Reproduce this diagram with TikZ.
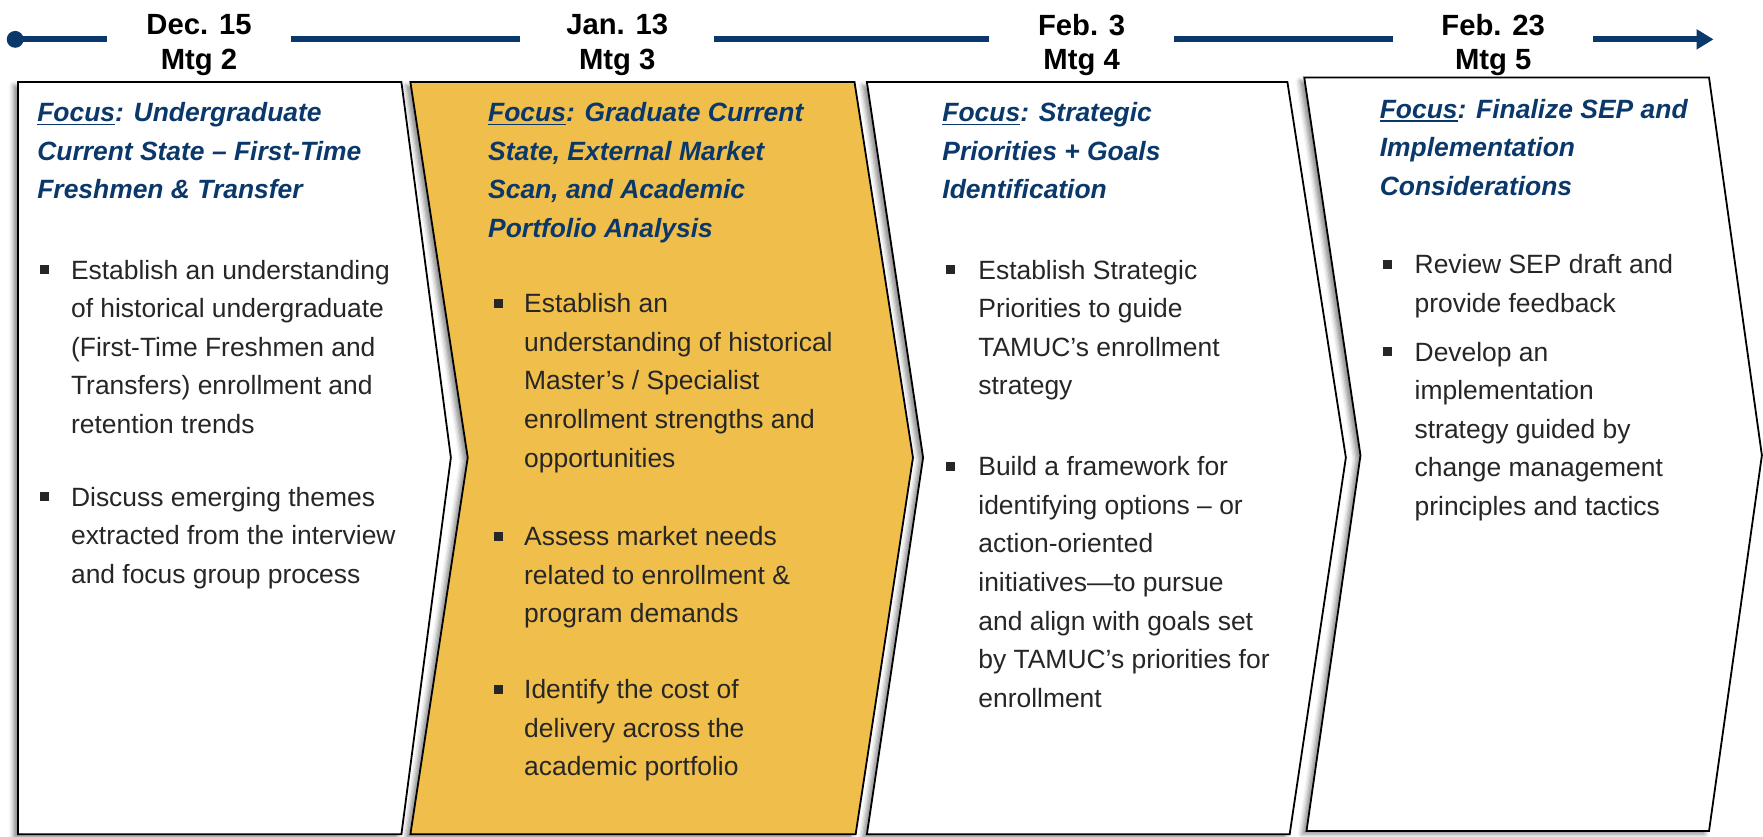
\documentclass[tikz,border=0pt]{standalone}
\usepackage{fontspec}
\setmainfont{Liberation Sans}
\usetikzlibrary{arrows.meta,shadows.blur}
\definecolor{navy}{RGB}{10,56,106}
\definecolor{gold}{RGB}{240,190,74}
\definecolor{bodyc}{RGB}{38,38,38}
% underlined "Focus" with a rule that suits the large type
\newcommand{\focusul}{\setbox0\hbox{Focus}\rlap{\rule[-3.2pt]{\wd0}{1.5pt}}\box0}
\tikzset{
  panel/.style={draw=black, line width=1.6pt, line join=miter,
    blur shadow={shadow xshift=-4pt, shadow yshift=-3pt, shadow blur radius=4pt, shadow opacity=45}},
  ttl/.style={anchor=north west, inner sep=0pt, align=left, text=navy,
    font=\fontsize{23.5}{34.3}\selectfont\bfseries\itshape},
  bodytxt/.style={anchor=north west, inner sep=0pt, align=left, text=bodyc,
    font=\fontsize{23.5}{34.3}\selectfont},
  bul/.style={rectangle, fill=bodyc, minimum size=8pt, inner sep=0pt},
  datelbl/.style={align=center, inner xsep=0pt, inner ysep=0pt, text=black,
    font=\fontsize{26}{31}\selectfont\bfseries},
  tl/.style={draw=navy, line width=5.3pt},
  tldot/.style={circle, fill=navy, minimum size=15pt, inner sep=0pt}
}
\begin{document}
\begin{tikzpicture}[x=1pt, y=-1pt]
\useasboundingbox (0,0) rectangle (1568,744);

% ---- chevron panels ----
\draw[panel, fill=white] (16,73) -- (357,73) -- (401,407) -- (357,742) -- (16,742) -- cycle;
\draw[panel, fill=gold] (365,73) -- (760,73) -- (812,407) -- (761,742) -- (365,742) -- (416,407) -- cycle;
\draw[panel, fill=white] (771,73) -- (1145,73) -- (1197,407) -- (1147,742) -- (771,742) -- (821,407) -- cycle;
\draw[panel, fill=white] (1160,69) -- (1520,69) -- (1567,405) -- (1520,739) -- (1162,739) -- (1210,405) -- cycle;

% ---- timeline ----
\node[tldot] (dot) at (13.5,35) {};
\node[datelbl, minimum width=164pt] (d1) at (177,40) {Dec. 15\\Mtg 2};
\node[datelbl, minimum width=172pt] (d2) at (549,40) {Jan. 13\\Mtg 3};
\node[datelbl, minimum width=164pt] (d3) at (962,40) {Feb. 3\\Mtg 4};
\node[datelbl, minimum width=178pt] (d4) at (1328,40) {Feb. 23\\Mtg 5};
\coordinate (tlend) at (1524,35);
\draw[tl] (dot.center) -- (d1.west |- dot.center);
\draw[tl] (d1.east |- dot.center) -- (d2.west |- dot.center);
\draw[tl] (d2.east |- dot.center) -- (d3.west |- dot.center);
\draw[tl] (d3.east |- dot.center) -- (d4.west |- dot.center);
\draw[tl, -{Triangle[length=15pt,width=17pt]}] (d4.east |- dot.center) -- (tlend);

% ---- panel 1 ----
\node[ttl] (t1) at (33,84) {\strut\focusul: Undergraduate\\Current State – First-Time\\Freshmen \& Transfer};
\node[bul] (m11) at (40,240) {};
\node[bodytxt] (b11) at (63,224) {\strut Establish an understanding\\of historical undergraduate\\(First-Time Freshmen and\\Transfers) enrollment and\\retention trends};
\node[bul] (m12) at (40,442) {};
\node[bodytxt] (b12) at (63,426) {\strut Discuss emerging themes\\extracted from the interview\\and focus group process};

% ---- panel 2 ----
\node[ttl] (t2) at (434,84) {\strut\focusul: Graduate Current\\State, External Market\\Scan, and Academic\\Portfolio Analysis};
\node[bul] (m21) at (443,270) {};
\node[bodytxt] (b21) at (466,254) {\strut Establish an\\understanding of historical\\Master’s / Specialist\\enrollment strengths and\\opportunities};
\node[bul] (m22) at (443,477) {};
\node[bodytxt] (b22) at (466,461) {\strut Assess market needs\\related to enrollment \&\\program demands};
\node[bul] (m23) at (443,613) {};
\node[bodytxt] (b23) at (466,597) {\strut Identify the cost of\\delivery across the\\academic portfolio};

% ---- panel 3 ----
\node[ttl] (t3) at (838,84) {\strut\focusul: Strategic\\Priorities + Goals\\Identification};
\node[bul] (m31) at (845,240) {};
\node[bodytxt] (b31) at (870,224) {\strut Establish Strategic\\Priorities to guide\\TAMUC’s enrollment\\strategy};
\node[bul] (m32) at (845,415) {};
\node[bodytxt] (b32) at (870,399) {\strut Build a framework for\\identifying options – or\\action-oriented\\initiatives—to pursue\\and align with goals set\\by TAMUC’s priorities for\\enrollment};

% ---- panel 4 ----
\node[ttl] (t4) at (1227,81) {\strut\focusul: Finalize SEP and\\Implementation\\Considerations};
\node[bul] (m41) at (1234,235) {};
\node[bodytxt] (b41) at (1258,219) {\strut Review SEP draft and\\provide feedback};
\node[bul] (m42) at (1234,313) {};
\node[bodytxt] (b42) at (1258,297) {\strut Develop an\\implementation\\strategy guided by\\change management\\principles and tactics};
\end{tikzpicture}
\end{document}
